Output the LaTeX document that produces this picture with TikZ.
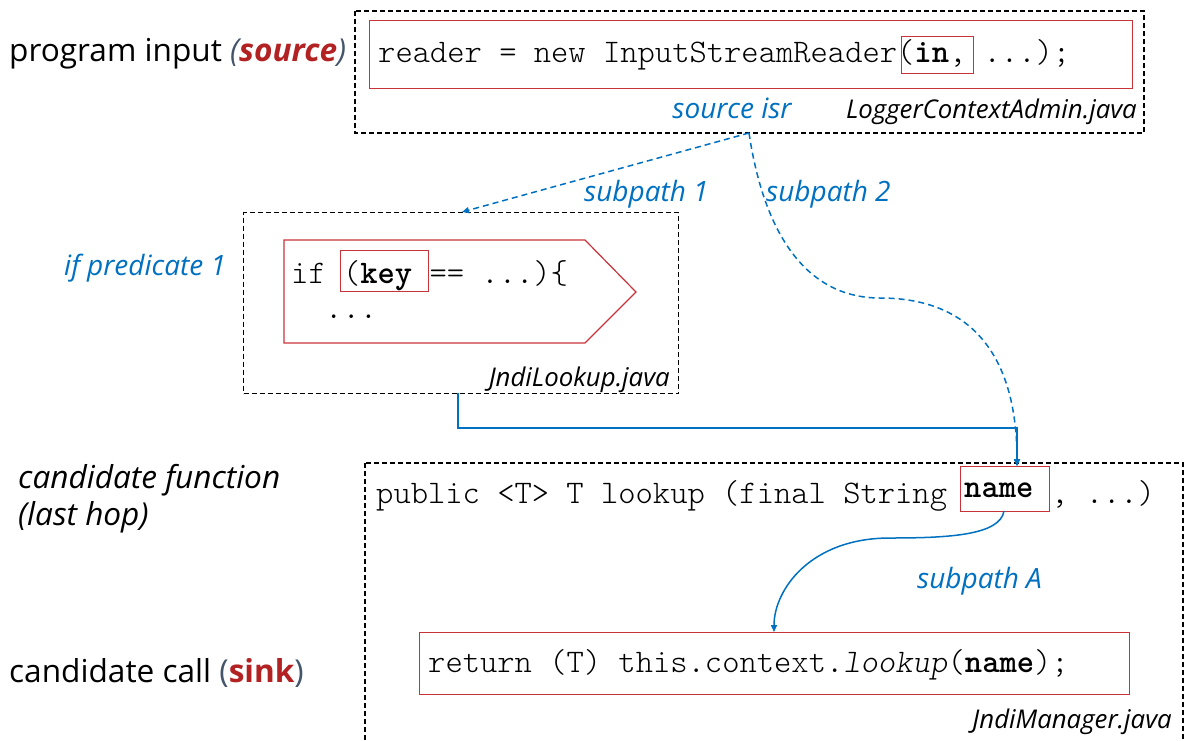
\documentclass[tikz,border=0pt]{standalone}
\usepackage{fontspec}
\setmainfont{Open Sans}
\usetikzlibrary{arrows.meta}
\definecolor{myblue}{HTML}{0070C0}
\definecolor{myred}{HTML}{B22222}
\definecolor{boxred}{HTML}{C8333A}
\definecolor{paren}{HTML}{44546A}
\begin{document}
\begin{tikzpicture}[x=1pt,y=-1pt,
  dbox/.style={draw=black, line width=1.2pt, dash pattern=on 5pt off 3pt},
  rbox/.style={draw=boxred, line width=1.2pt},
  code/.style={anchor=base west, inner sep=0pt, font=\ttfamily\fontseries{l}\fontsize{32.95}{36}\selectfont},
  lbl/.style={inner sep=0pt, font=\fontsize{31.6}{36}\selectfont},
  blbl/.style={inner sep=0pt, text=myblue, font=\fontsize{28}{32}\selectfont\itshape},
  flbl/.style={inner sep=0pt, text=black, font=\fontsize{25.8}{30}\selectfont\itshape},
  conn/.style={draw=myblue, line width=1.5pt, -{Triangle[length=7pt,width=6pt]}},
  dconn/.style={conn, dash pattern=on 6pt off 4pt}
]
\useasboundingbox (0,0) rectangle (1184,740);

% ---------- top box ----------
\draw[dbox] (355,11) rectangle (1144,133);
\node[rbox, anchor=north west, minimum width=763pt, minimum height=68pt, inner sep=0pt] (r1) at (369,20) {};
\node[rbox, anchor=north west, minimum width=72pt, minimum height=37pt, inner sep=0pt] (inbox) at (901,36) {};
\node[code] (c1) at (378,62) {reader = new InputStreamReader(\textbf{in}, ...);};
\node[blbl, anchor=base] (isr) at (732,118) {source isr};
\node[flbl, anchor=base east] (f1) at (1137,118) {LoggerContextAdmin.java};

% ---------- middle box ----------
\node[dbox, anchor=north west, minimum width=435pt, minimum height=181pt, inner sep=0pt] (mid) at (243,212) {};
\draw[rbox] (284,240) -- (585,240) -- (636,292) -- (585,343) -- (284,343) -- cycle;
\node[rbox, anchor=north west, minimum width=88pt, minimum height=41pt, inner sep=0pt] (keybox) at (340,250) {};
\node[code] (c2) at (291,283) {if (\textbf{key} == ...)\{};
\node[code] (c3) at (325,318) {...};
\node[flbl, anchor=base east] (f2) at (670,386) {JndiLookup.java};
\node[blbl, anchor=base west] (pred) at (64,275) {if predicate 1};

% ---------- bottom box ----------
\draw[dbox] (365,463) rectangle (1183,760);
\node[rbox, anchor=north west, minimum width=89pt, minimum height=45pt, inner sep=0pt] (namebox) at (960,466) {};
\node[code] (c4) at (376,503) {public <T> T lookup (final String};
\node[code] (c5) at (964,497) {\textbf{name}};
\node[code] (c6) at (1051,503) {, ...)};
\node[rbox, anchor=north west, minimum width=710pt, minimum height=62pt, inner sep=0pt] (r3) at (419,632) {};
\node[code] (c7) at (428,672) {return (T) this.context.\textit{lookup}(\textbf{name});};
\node[flbl, anchor=base east] (f3) at (1172,728) {JndiManager.java};
\node[blbl, anchor=base west] (subA) at (917,588) {subpath A};

% ---------- left labels ----------
\node[lbl, anchor=base west] (l1) at (9,61) {program input \textcolor{paren}{\itshape(}\textcolor{myred}{\bfseries\itshape source}\textcolor{paren}{\itshape)}};
\node[lbl, anchor=base west, font=\fontsize{31.6}{36}\selectfont\itshape] (l2) at (18,488) {candidate function};
\node[lbl, anchor=base west, font=\fontsize{31.6}{36}\selectfont\itshape] (l3) at (18,525) {(last hop)};
\node[lbl, anchor=base west] (l4) at (9,682) {candidate call \textcolor{paren}{(}\textcolor{myred}{\bfseries sink}\textcolor{paren}{)}};

% ---------- connectors ----------
\coordinate (s1) at (749,133);
\coordinate (e1) at (462,212);
\node[blbl, anchor=base west] (sp1) at (584,201) {subpath 1};
\node[blbl, anchor=base west] (sp2) at (766,201) {subpath 2};
\draw[dconn] (s1) -- (e1);
\draw[dconn] (s1) .. controls (765,240) and (810,298) .. (880,298)
  .. controls (975,298) and (1017,360) .. (namebox.north -| 1017,0);
\coordinate (m1) at (458,393);
\draw[conn] (m1) -- (458,428) -- (1017,428) -- (namebox.north -| 1017,0);
\coordinate (a0) at (1004,511);
\draw[conn] (a0) .. controls (1000,535) and (950,538) .. (890,538)
  .. controls (810,538) and (774,590) .. (r3.north -| 774,0);
\end{tikzpicture}
\end{document}
